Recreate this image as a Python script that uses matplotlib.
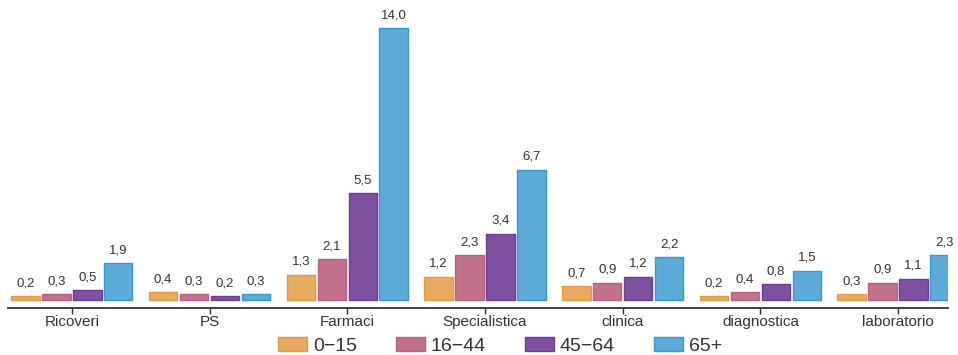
import matplotlib
matplotlib.use("Agg")
import matplotlib.pyplot as plt
import numpy as np
from matplotlib.patches import Patch

plt.rcParams['font.family'] = ['Liberation Sans', 'DejaVu Sans']

categories = ["Ricoveri", "PS", "Farmaci", "Specialistica", "clinica", "diagnostica", "laboratorio"]
series_names = ["0\u221215", "16\u221244", "45\u221264", "65+"]
v_0_15 = [0.2, 0.4, 1.3, 1.2, 0.7, 0.2, 0.3]
v_16_44 = [0.3, 0.3, 2.1, 2.3, 0.9, 0.4, 0.9]
v_45_64 = [0.5, 0.2, 5.5, 3.4, 1.2, 0.8, 1.1]
v_65 = [1.9, 0.3, 14.0, 6.7, 2.2, 1.5, 2.3]
series = [v_0_15, v_16_44, v_45_64, v_65]
faces = ["#E8AA5E", "#C2718A", "#7D51A0", "#5BAAD8"]
edges = ["#E39B3E", "#B9617E", "#6B3C92", "#2F9CD6"]

fig = plt.figure(figsize=(9.58, 3.55), dpi=100)
W, H = 958, 355
ppu = 19.43
ax = fig.add_axes([8 / W, 47 / H, 940 / W, 298 / H])

x = np.arange(len(categories))
pitch = 31 / 138
width = 28.5 / 138
offsets = (np.arange(4) - 1.5) * pitch
for vals, off, fc, ec in zip(series, offsets, faces, edges):
    bars = ax.bar(x + off, vals, width=width, color=fc, edgecolor=ec, linewidth=1.0)
    for b, v in zip(bars, vals):
        ax.annotate(f"{v:.1f}".replace(".", ","), (b.get_x() + b.get_width() / 2, v),
                    xytext=(0, 5), textcoords="offset points", ha="center", va="bottom",
                    fontsize=9.5, color="#333333")

ax.set_xlim(-64 / 138, 6 + 50 / 138)
ax.set_ylim(-8 / ppu, 290 / ppu)
ax.set_xticks(x)
ax.set_xticklabels(categories, fontsize=11, color="#333333")
ax.tick_params(axis="x", length=4, width=1, color="#333333", pad=1)
ax.set_yticks([])
for s in ["left", "right", "top"]:
    ax.spines[s].set_visible(False)
ax.spines["bottom"].set_color("#333333")
ax.spines["bottom"].set_linewidth(1.3)

handles = [Patch(facecolor=fc, edgecolor=ec, label=n) for fc, ec, n in zip(faces, edges, series_names)]
fig.legend(handles=handles, loc="center", bbox_to_anchor=(500 / W, 9 / H), ncol=4, frameon=False,
           fontsize=14, handlelength=1.5, handleheight=0.72, columnspacing=2.0, handletextpad=0.3,
           labelcolor="#333333", borderpad=0)

fig.savefig("out.png", dpi=100)
